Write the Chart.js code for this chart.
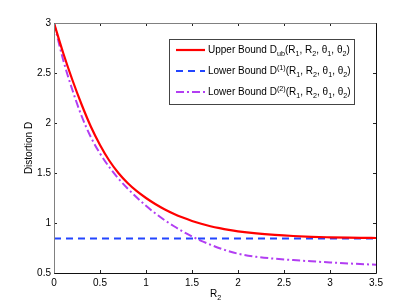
<!DOCTYPE html>
<html>
<head>
<meta charset="utf-8">
<script src="https://cdn.jsdelivr.net/npm/chart.js@4.4.0/dist/chart.umd.min.js"></script>
<style>
  html, body { margin: 0; padding: 0; background: #fff; }
</style>
</head>
<body>
<canvas id="chart" width="415" height="308"></canvas>
<script>
// Valores
const r2 = [0, 0.1, 0.2, 0.3, 0.4, 0.5, 0.6, 0.7, 0.8, 0.9, 1.0, 1.1, 1.2, 1.3, 1.4, 1.5, 1.6, 1.7, 1.8, 1.9, 2.0, 2.2, 2.4, 2.6, 2.8, 3.0, 3.2, 3.4, 3.5];
const upperBound = [3.0, 2.70, 2.43, 2.185, 1.965, 1.78, 1.625, 1.50, 1.40, 1.318, 1.25, 1.19, 1.138, 1.093, 1.054, 1.02, 0.992, 0.968, 0.948, 0.931, 0.917, 0.896, 0.881, 0.87, 0.862, 0.857, 0.853, 0.851, 0.85];
const lowerBound2 = [3.0, 2.63, 2.33, 2.07, 1.86, 1.695, 1.56, 1.445, 1.345, 1.255, 1.172, 1.097, 1.03, 0.97, 0.915, 0.866, 0.822, 0.783, 0.748, 0.718, 0.693, 0.662, 0.643, 0.629, 0.617, 0.606, 0.596, 0.587, 0.583];
const r2Flat = [0, 3.5];
const lowerBound1 = [0.845, 0.845];

const xTicks = [0, 0.5, 1, 1.5, 2, 2.5, 3, 3.5];
const yTicks = [0.5, 1, 1.5, 2, 2.5, 3];

// Legenda com sub/sobrescritos
const legendTexts = [
  [['Upper Bound D'], ['ub', 'sub'], ['(R'], ['1', 'sub'], [', R'], ['2', 'sub'], [', \u03b8'], ['1', 'sub'], [', \u03b8'], ['2', 'sub'], [')']],
  [['Lower Bound D'], ['(1)', 'sup'], ['(R'], ['1', 'sub'], [', R'], ['2', 'sub'], [', \u03b8'], ['1', 'sub'], [', \u03b8'], ['2', 'sub'], [')']],
  [['Lower Bound D'], ['(2)', 'sup'], ['(R'], ['1', 'sub'], [', R'], ['2', 'sub'], [', \u03b8'], ['1', 'sub'], [', \u03b8'], ['2', 'sub'], [')']]
];

const FONT = '"Liberation Sans", Arial, Helvetica, sans-serif';

const toXY = (xs, ys) => xs.map((v, i) => ({ x: v, y: ys[i] }));

function richText(ctx, parts, x, y, size) {
  let cx = x;
  for (const [t, kind] of parts) {
    let s = size, dy = 0;
    if (kind === 'sub') { s = size * 0.72; dy = size * 0.32; }
    if (kind === 'sup') { s = size * 0.72; dy = -size * 0.42; }
    ctx.font = s + 'px ' + FONT;
    ctx.fillText(t, cx, y + dy);
    cx += ctx.measureText(t).width;
  }
}

const moldura = {
  id: 'moldura',
  afterDatasetsDraw(chart) {
    const { ctx, chartArea: a, scales: { x, y } } = chart;
    ctx.save();
    ctx.lineWidth = 1;
    // marcas para dentro
    ctx.strokeStyle = '#222';
    xTicks.forEach(v => {
      const px = Math.round(x.getPixelForValue(v)) + 0.5;
      ctx.beginPath();
      ctx.moveTo(px, a.bottom); ctx.lineTo(px, a.bottom - 3);
      ctx.moveTo(px, a.top); ctx.lineTo(px, a.top + 3);
      ctx.stroke();
    });
    yTicks.forEach(v => {
      const py = Math.round(y.getPixelForValue(v)) + 0.5;
      ctx.beginPath();
      ctx.moveTo(a.left, py); ctx.lineTo(a.left + 3, py);
      ctx.moveTo(a.right, py); ctx.lineTo(a.right - 3, py);
      ctx.stroke();
    });
    // caixa
    const l = Math.round(a.left) + 0.5, r = Math.round(a.right) + 0.5;
    const t = Math.round(a.top) + 0.5, b = Math.round(a.bottom) + 0.5;
    ctx.strokeStyle = '#808080';
    ctx.beginPath();
    ctx.moveTo(l, b); ctx.lineTo(l, t); ctx.lineTo(r, t);
    ctx.stroke();
    ctx.strokeStyle = '#111';
    ctx.beginPath();
    ctx.moveTo(l, b); ctx.lineTo(r, b); ctx.lineTo(r, t);
    ctx.stroke();
    ctx.restore();
  },
  afterDraw(chart) {
    const { ctx, chartArea: a } = chart;
    ctx.save();
    ctx.fillStyle = '#000';
    ctx.textBaseline = 'alphabetic';
    ctx.textAlign = 'left';
    // titulo do eixo x
    richText(ctx, [['R'], ['2', 'sub']], (a.left + a.right) / 2 - 5, 297, 10);
    // titulo do eixo y
    ctx.translate(32, (a.top + a.bottom) / 2);
    ctx.rotate(-Math.PI / 2);
    ctx.textAlign = 'center';
    ctx.font = '10px ' + FONT;
    ctx.fillText('Distortion D', 0, 0);
    ctx.restore();

    // legenda
    ctx.save();
    const bx = 169.5, by = 39.5, bw = 185, bh = 65;
    ctx.fillStyle = '#fff';
    ctx.fillRect(bx, by, bw, bh);
    ctx.strokeStyle = '#444';
    ctx.lineWidth = 1;
    ctx.strokeRect(bx, by, bw, bh);
    chart.data.datasets.forEach((ds, i) => {
      const ly = 50 + i * 21;
      ctx.strokeStyle = ds.borderColor;
      ctx.lineWidth = ds.borderWidth;
      ctx.setLineDash(ds.borderDash || []);
      ctx.beginPath();
      ctx.moveTo(176, ly); ctx.lineTo(205, ly);
      ctx.stroke();
      ctx.setLineDash([]);
      ctx.fillStyle = '#000';
      ctx.textAlign = 'left';
      richText(ctx, legendTexts[i], 208, ly + 3, 10);
    });
    ctx.restore();
  }
};

new Chart(document.getElementById('chart'), {
  type: 'line',
  data: {
    datasets: [
      { label: 'Upper Bound', data: toXY(r2, upperBound), borderColor: '#ff0000', borderWidth: 2.2, pointRadius: 0, cubicInterpolationMode: 'monotone' },
      { label: 'Lower Bound 1', data: toXY(r2Flat, lowerBound1), borderColor: '#2245ff', borderWidth: 2, borderDash: [7, 5], pointRadius: 0 },
      { label: 'Lower Bound 2', data: toXY(r2, lowerBound2), borderColor: '#b23ef2', borderWidth: 2, borderDash: [8, 3, 2, 3], pointRadius: 0, cubicInterpolationMode: 'monotone' }
    ]
  },
  options: {
    responsive: false,
    animation: false,
    layout: { padding: { left: 0, top: 23, right: 39, bottom: 0 } },
    plugins: { legend: { display: false }, tooltip: { enabled: false } },
    scales: {
      x: {
        type: 'linear', min: 0, max: 3.5,
        afterFit: s => { s.height = 35; },
        afterBuildTicks: s => { s.ticks = xTicks.map(v => ({ value: v })); },
        grid: { display: false, drawTicks: false },
        border: { display: false },
        ticks: { padding: 4, color: '#000', font: { family: FONT, size: 10 }, maxRotation: 0, callback: v => String(v) }
      },
      y: {
        type: 'linear', min: 0.5, max: 3,
        afterFit: s => { s.width = 54; },
        afterBuildTicks: s => { s.ticks = yTicks.map(v => ({ value: v })); },
        grid: { display: false, drawTicks: false },
        border: { display: false },
        ticks: { padding: 3, color: '#000', font: { family: FONT, size: 10 }, callback: v => String(v) }
      }
    }
  },
  plugins: [moldura]
});
</script>
</body>
</html>
